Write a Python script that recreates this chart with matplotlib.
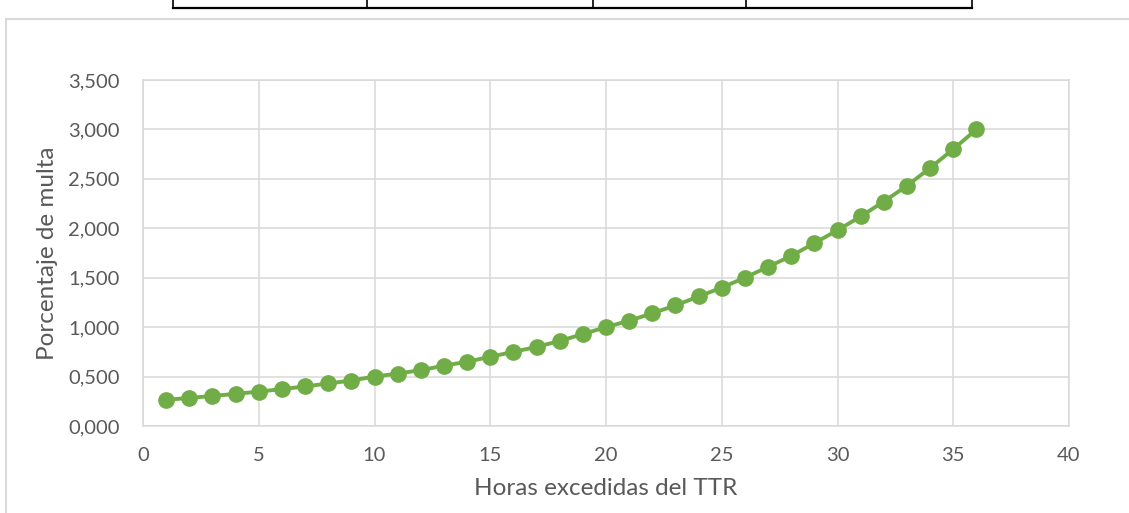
import matplotlib.pyplot as plt
import matplotlib.ticker as ticker
from matplotlib.lines import Line2D

# hours exceeded vs penalty percentage
horas = list(range(1, 37))
multa = [0.265, 0.284, 0.304, 0.325, 0.348, 0.373, 0.400, 0.430, 0.460, 0.500,
         0.530, 0.565, 0.610, 0.650, 0.700, 0.750, 0.800, 0.860, 0.930, 1.000,
         1.065, 1.140, 1.220, 1.310, 1.400, 1.500, 1.610, 1.720, 1.850, 1.980,
         2.120, 2.270, 2.430, 2.610, 2.800, 3.000]

x_ticks = [0, 5, 10, 15, 20, 25, 30, 35, 40]
y_ticks = [0, 0.5, 1.0, 1.5, 2.0, 2.5, 3.0, 3.5]

plt.rcParams['font.family'] = ['Lato', 'DejaVu Sans']

W, H = 1129, 513
fig = plt.figure(figsize=(W / 100, H / 100), dpi=100)
ax = fig.add_axes([143 / W, 1 - 426 / H, (1069 - 143) / W, (426 - 80) / H])

green = '#70AD47'
grid = '#D9D9D9'
text = '#595959'

ax.plot(horas, multa, color=green, linewidth=2.8, marker='o', markersize=11,
        markerfacecolor=green, markeredgecolor=green, zorder=3)

ax.set_xlim(0, 40)
ax.set_ylim(0, 3.5)
ax.set_xticks(x_ticks)
ax.set_yticks(y_ticks)
ax.yaxis.set_major_formatter(ticker.FuncFormatter(lambda v, p: f"{v:.3f}".replace('.', ',')))

ax.grid(True, color=grid, linewidth=1.1)
ax.set_axisbelow(True)
for side in ['top', 'right', 'left', 'bottom']:
    ax.spines[side].set_color(grid)
    ax.spines[side].set_linewidth(1.1)

ax.tick_params(axis='both', length=0, labelsize=14.5, labelcolor=text)
ax.tick_params(axis='y', pad=17)
ax.tick_params(axis='x', pad=15)

ax.set_xlabel("Horas excedidas del TTR", fontsize=17.5, color=text, labelpad=10)
ax.set_ylabel("Porcentaje de multa", fontsize=17.5, color=text, labelpad=7)

# chart frame (light gray) and table edge above it
def px_line(xs, ys, color, lw):
    fig.add_artist(Line2D([x / W for x in xs], [1 - y / H for y in ys],
                          transform=fig.transFigure, color=color, linewidth=lw))

px_line([6, W + 5], [19, 19], grid, 1.5)
px_line([6, 6], [19, H + 5], grid, 1.5)

px_line([173, 972], [8, 8], 'black', 1.6)
for xv in [173, 367, 593, 746, 972]:
    px_line([xv, xv], [-2, 8], 'black', 1.2)

fig.savefig('out.png', dpi=100, facecolor='white')
